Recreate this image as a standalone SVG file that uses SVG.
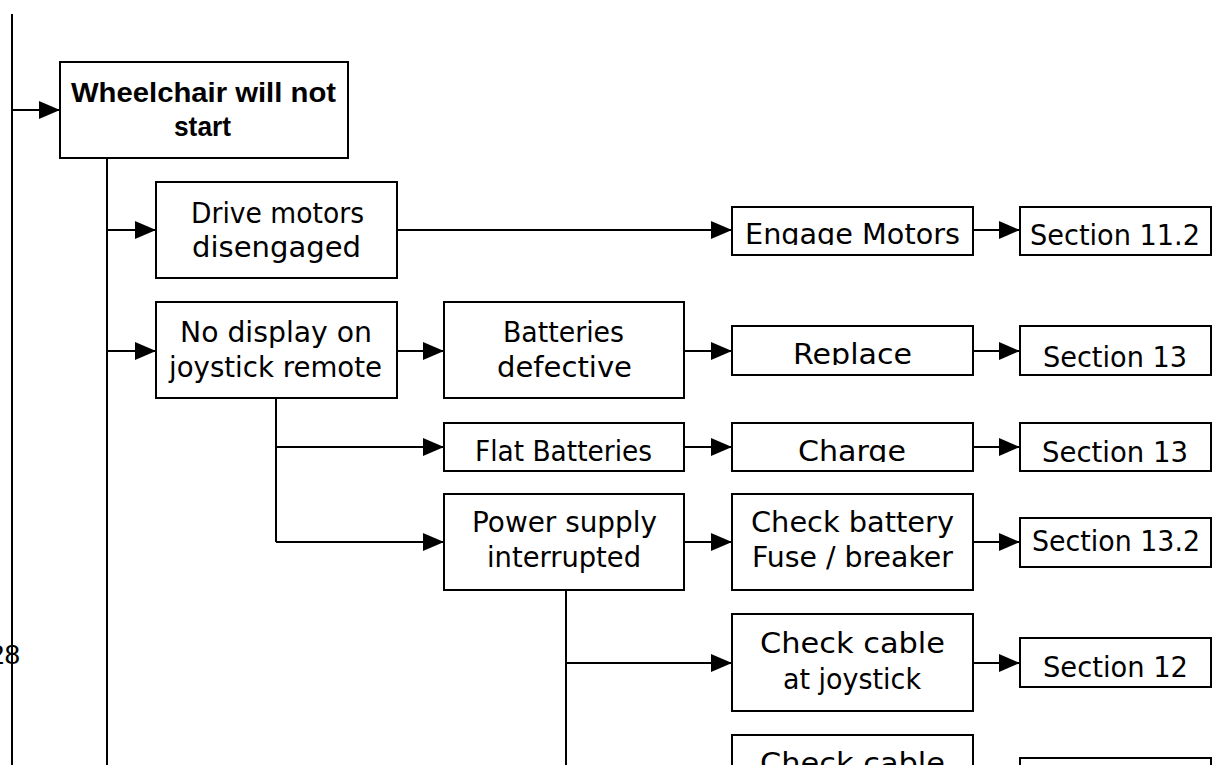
<svg xmlns="http://www.w3.org/2000/svg" width="1212" height="765" viewBox="0 0 1212 765">
<style>
.box{fill:#fff;stroke:#000;stroke-width:2}
.ln{fill:none;stroke:#000;stroke-width:2}
.ar{marker-end:url(#arr)}
text{font-family:"DejaVu Sans","Liberation Sans",sans-serif;font-size:28px;fill:#000}
.b{font-family:"Liberation Sans","DejaVu Sans",sans-serif;font-weight:bold;font-size:28px}
</style>
<defs>
<marker id="arr" markerWidth="21" markerHeight="18" refX="21" refY="9" orient="auto" markerUnits="userSpaceOnUse">
<path d="M0,0 L21,9 L0,18 z" fill="#000"/>
</marker>
<clipPath id="cEngage"><rect x="732" y="207" width="241" height="38"/></clipPath>
<clipPath id="cReplace"><rect x="732" y="326" width="241" height="39"/></clipPath>
<clipPath id="cCharge"><rect x="732" y="423" width="241" height="39"/></clipPath>
</defs>
<rect width="1212" height="765" fill="#fff"/>
<g id="connectors">
<path class="ln" d="M12,14 V765"/>
<path class="ln ar" d="M12,110 H60"/>
<path class="ln" d="M107,158 V765"/>
<path class="ln ar" d="M107,230 H156"/>
<path class="ln ar" d="M107,351 H156"/>
<path class="ln ar" d="M397,230 H732"/>
<path class="ln ar" d="M973,230 H1020"/>
<path class="ln ar" d="M397,351 H444"/>
<path class="ln ar" d="M684,351 H732"/>
<path class="ln ar" d="M973,351 H1020"/>
<path class="ln" d="M276,398 V542"/>
<path class="ln ar" d="M276,447 H444"/>
<path class="ln ar" d="M276,542 H444"/>
<path class="ln ar" d="M684,447 H732"/>
<path class="ln ar" d="M973,447 H1020"/>
<path class="ln ar" d="M684,542 H732"/>
<path class="ln ar" d="M973,542 H1020"/>
<path class="ln" d="M566,590 V765"/>
<path class="ln ar" d="M566,663 H732"/>
<path class="ln ar" d="M973,663 H1020"/>
</g>
<g id="n-wheelchair"><rect class="box" x="60" y="62" width="288" height="96"/>
<text class="b" x="71" y="102" textLength="265" lengthAdjust="spacingAndGlyphs">Wheelchair will not</text>
<text class="b" x="174" y="136" textLength="57" lengthAdjust="spacingAndGlyphs">start</text></g>
<g id="n-drive"><rect class="box" x="156" y="182" width="241" height="96"/>
<text x="191" y="223" textLength="173" lengthAdjust="spacingAndGlyphs">Drive motors</text>
<text x="192" y="257" textLength="169" lengthAdjust="spacingAndGlyphs">disengaged</text></g>
<g id="n-engage"><rect class="box" x="732" y="207" width="241" height="48"/>
<text x="745" y="244" textLength="215" lengthAdjust="spacingAndGlyphs" clip-path="url(#cEngage)">Engage Motors</text></g>
<g id="n-sec112"><rect class="box" x="1020" y="207" width="191" height="48"/>
<text x="1030" y="245" textLength="170" lengthAdjust="spacingAndGlyphs">Section 11.2</text></g>
<g id="n-nodisplay"><rect class="box" x="156" y="302" width="241" height="96"/>
<text x="180" y="342" textLength="192" lengthAdjust="spacingAndGlyphs">No display on</text>
<text x="169" y="377" textLength="213" lengthAdjust="spacingAndGlyphs">joystick remote</text></g>
<g id="n-battdef"><rect class="box" x="444" y="302" width="240" height="96"/>
<text x="503" y="342" textLength="121" lengthAdjust="spacingAndGlyphs">Batteries</text>
<text x="497" y="377" textLength="135" lengthAdjust="spacingAndGlyphs">defective</text></g>
<g id="n-replace"><rect class="box" x="732" y="326" width="241" height="49"/>
<text x="793" y="364" textLength="119" lengthAdjust="spacingAndGlyphs" clip-path="url(#cReplace)">Replace</text></g>
<g id="n-sec13a"><rect class="box" x="1020" y="326" width="191" height="49"/>
<text x="1043" y="367" textLength="144" lengthAdjust="spacingAndGlyphs">Section 13</text></g>
<g id="n-flat"><rect class="box" x="444" y="423" width="240" height="48"/>
<text x="475" y="461" textLength="177" lengthAdjust="spacingAndGlyphs">Flat Batteries</text></g>
<g id="n-charge"><rect class="box" x="732" y="423" width="241" height="48"/>
<text x="798" y="461" textLength="108" lengthAdjust="spacingAndGlyphs" clip-path="url(#cCharge)">Charge</text></g>
<g id="n-sec13b"><rect class="box" x="1020" y="423" width="191" height="48"/>
<text x="1042" y="462" textLength="146" lengthAdjust="spacingAndGlyphs">Section 13</text></g>
<g id="n-power"><rect class="box" x="444" y="494" width="240" height="96"/>
<text x="472" y="532" textLength="185" lengthAdjust="spacingAndGlyphs">Power supply</text>
<text x="487" y="567" textLength="154" lengthAdjust="spacingAndGlyphs">interrupted</text></g>
<g id="n-checkbatt"><rect class="box" x="732" y="494" width="241" height="96"/>
<text x="751" y="532" textLength="203" lengthAdjust="spacingAndGlyphs">Check battery</text>
<text x="752" y="567" textLength="201" lengthAdjust="spacingAndGlyphs">Fuse / breaker</text></g>
<g id="n-sec132"><rect class="box" x="1020" y="518" width="191" height="49"/>
<text x="1032" y="551" textLength="168" lengthAdjust="spacingAndGlyphs">Section 13.2</text></g>
<g id="n-cablejoy"><rect class="box" x="732" y="614" width="241" height="97"/>
<text x="760" y="653" textLength="185" lengthAdjust="spacingAndGlyphs">Check cable</text>
<text x="783" y="689" textLength="138" lengthAdjust="spacingAndGlyphs">at joystick</text></g>
<g id="n-sec12"><rect class="box" x="1020" y="638" width="191" height="49"/>
<text x="1043" y="677" textLength="145" lengthAdjust="spacingAndGlyphs">Section 12</text></g>
<g id="n-cable2"><rect class="box" x="732" y="735" width="241" height="97"/>
<text x="760" y="773" textLength="185" lengthAdjust="spacingAndGlyphs">Check cable</text></g>
<g id="n-sec-last"><rect class="box" x="1020" y="758" width="191" height="49"/></g>
<g id="pagenum"><text x="20" y="664" text-anchor="end" style="font-family:'Liberation Sans',sans-serif;font-size:28px">28</text></g>
</svg>
